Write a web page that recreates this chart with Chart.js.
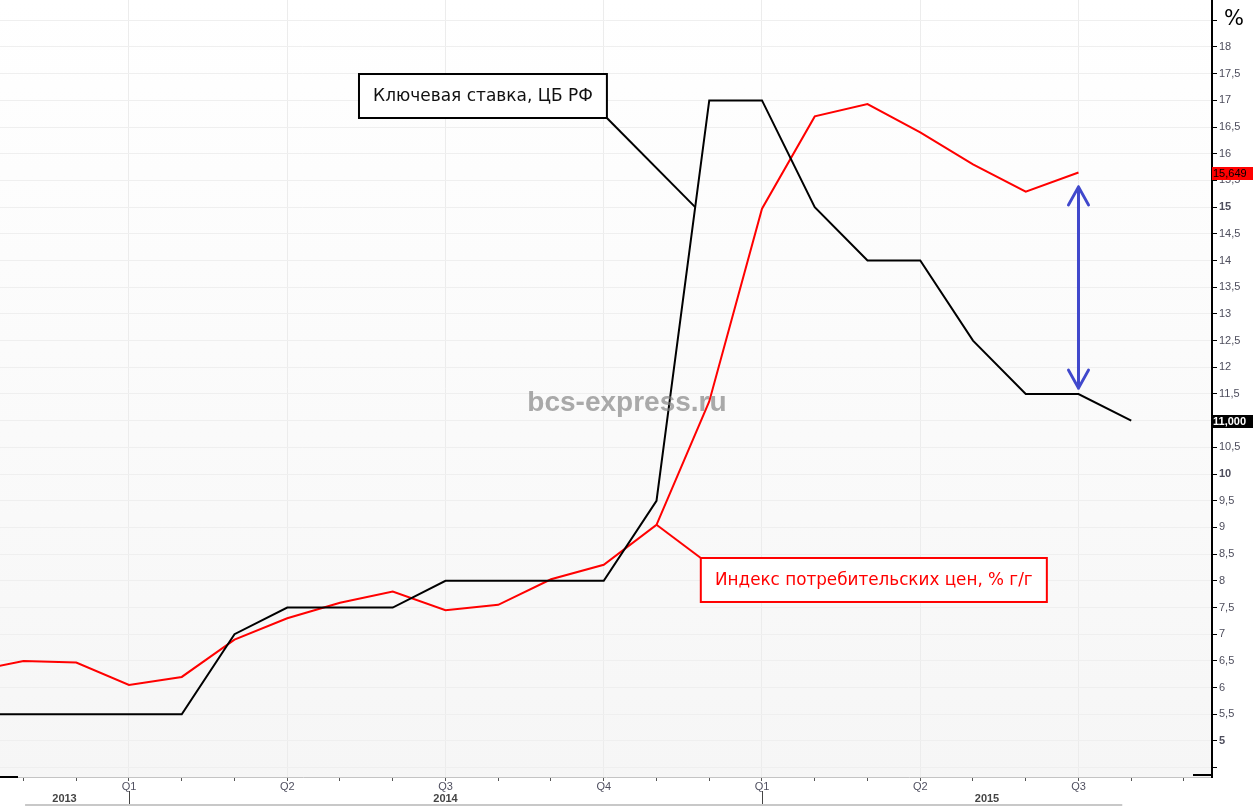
<!DOCTYPE html>
<html><head><meta charset="utf-8">
<script src="https://cdn.jsdelivr.net/npm/chart.js@4.4.1/dist/chart.umd.min.js"></script>
<style>html,body{margin:0;padding:0;background:#fff;overflow:hidden}canvas{display:block}</style>
</head><body>
<canvas id="c" width="1253" height="806"></canvas>
<script>
// ---- data ----
const months = ['2013-10','2013-11','2013-12','2014-01','2014-02','2014-03','2014-04','2014-05','2014-06','2014-07','2014-08','2014-09','2014-10','2014-11','2014-12','2015-01','2015-02','2015-03','2015-04','2015-05','2015-06','2015-07','2015-08'];
const keyRate = [5.5,5.5,5.5,5.5,5.5,7.0,7.5,7.5,7.5,8.0,8.0,8.0,8.0,9.5,17,17,15,14,14,12.5,11.5,11.5,11.0];
const cpi = [6.3,6.5,6.47,6.05,6.2,6.9,7.3,7.59,7.8,7.45,7.55,8.03,8.3,9.05,11.36,14.97,16.7,16.93,16.4,15.8,15.29,15.649];
const quarterTicks = {'2014-01':'Q1','2014-04':'Q2','2014-07':'Q3','2014-10':'Q4','2015-01':'Q1','2015-04':'Q2','2015-07':'Q3'};
const years = ['2013','2014','2015'];
const yTicks = [4.5,5,5.5,6,6.5,7,7.5,8,8.5,9,9.5,10,10.5,11,11.5,12,12.5,13,13.5,14,14.5,15,15.5,16,16.5,17,17.5,18,18.5];
const keyLabel = 'Ключевая ставка, ЦБ РФ';
const cpiLabel = 'Индекс потребительских цен, % г/г';
const watermark = 'bcs-express.ru';

// ---- layout / style (data-space positions for annotations) ----
const X_MIN = 0.5545, X_MAX = 23.531, Y_MIN = 4.3256, Y_MAX = 18.8804;
const notes = [
  {text: keyLabel, x0: 7.36, x1: 12.06, y0: 17.494, y1: 16.67, border: '#000', color: '#111'},
  {text: cpiLabel, x0: 13.84, x1: 20.40, y0: 8.428, y1: 7.604, border: '#ff0000', color: '#ff0000'}
];
const arrowSpec = {x: 21, yTop: 15.38, yBot: 11.61, color: '#4048cc'};
const wmSpec = {x: 12.44, y: 11.33};
const FONT = '"DejaVu Sans", Verdana, sans-serif';
const AXFONT = '"Liberation Sans", Arial, sans-serif';
const fmt = v => String(v).replace('.', ',');

const decor = {
  id: 'decor',
  beforeDraw(chart) {
    const {ctx, chartArea: a} = chart;
    ctx.save();
    ctx.fillStyle = '#fff';
    ctx.fillRect(0, 0, chart.width, chart.height);
    const g = ctx.createLinearGradient(0, a.top, 0, a.bottom);
    g.addColorStop(0, '#ffffff');
    g.addColorStop(1, '#f6f6f6');
    ctx.fillStyle = g;
    ctx.fillRect(a.left, a.top, a.right - a.left, a.bottom - a.top);
    ctx.restore();
  },
  afterDatasetsDraw(chart) {
    const {ctx, scales: {x, y}} = chart;
    ctx.save();
    // watermark
    ctx.font = 'bold 28px "Liberation Sans", Arial, sans-serif';
    ctx.fillStyle = 'rgba(130,130,130,0.68)';
    ctx.textAlign = 'center';
    ctx.textBaseline = 'middle';
    ctx.fillText(watermark, x.getPixelForValue(wmSpec.x), y.getPixelForValue(wmSpec.y));

    // connectors
    const i0 = 13, i1 = 14;
    const tv = 15;
    const tx = i0 + (tv - keyRate[i0]) / (keyRate[i1] - keyRate[i0]);
    ctx.lineWidth = 2;
    ctx.strokeStyle = '#000';
    ctx.beginPath();
    ctx.moveTo(x.getPixelForValue(notes[0].x1), y.getPixelForValue(notes[0].y1));
    ctx.lineTo(x.getPixelForValue(tx), y.getPixelForValue(tv));
    ctx.stroke();
    ctx.strokeStyle = '#ff0000';
    ctx.beginPath();
    ctx.moveTo(x.getPixelForValue(13), y.getPixelForValue(cpi[13]));
    ctx.lineTo(x.getPixelForValue(notes[1].x0), y.getPixelForValue(notes[1].y0));
    ctx.stroke();

    // boxes
    for (const n of notes) {
      const L = x.getPixelForValue(n.x0), R = x.getPixelForValue(n.x1);
      const T = y.getPixelForValue(n.y0), B = y.getPixelForValue(n.y1);
      ctx.fillStyle = '#fff';
      ctx.fillRect(L, T, R - L, B - T);
      ctx.lineWidth = 2;
      ctx.strokeStyle = n.border;
      ctx.strokeRect(L, T, R - L, B - T);
      ctx.font = '16px ' + FONT;
      const w = ctx.measureText(n.text).width;
      const fs = 16 * (R - L - 28) / w;
      ctx.font = fs.toFixed(2) + 'px ' + FONT;
      ctx.fillStyle = n.color;
      ctx.textAlign = 'center';
      ctx.textBaseline = 'middle';
      ctx.fillText(n.text, (L + R) / 2, (T + B) / 2 + 1);
    }

    // double arrow
    const ax = x.getPixelForValue(arrowSpec.x);
    const at = y.getPixelForValue(arrowSpec.yTop), ab = y.getPixelForValue(arrowSpec.yBot);
    ctx.strokeStyle = arrowSpec.color;
    ctx.lineWidth = 3;
    ctx.lineCap = 'round';
    ctx.lineJoin = 'round';
    ctx.beginPath();
    ctx.moveTo(ax, at); ctx.lineTo(ax, ab);
    ctx.moveTo(ax - 10, at + 18); ctx.lineTo(ax, at); ctx.lineTo(ax + 10, at + 18);
    ctx.moveTo(ax - 10, ab - 18); ctx.lineTo(ax, ab); ctx.lineTo(ax + 10, ab - 18);
    ctx.stroke();
    ctx.restore();
  },
  afterDraw(chart) {
    const {ctx, chartArea: a, scales: {x, y}} = chart;
    ctx.save();
    // bottom frame bits
    ctx.fillStyle = '#000';
    ctx.fillRect(a.left, a.bottom - 1, 18, 2);
    ctx.fillRect(a.right - 19, a.bottom - 3, 19, 2);
    // percent sign
    ctx.font = '21px ' + FONT;
    ctx.fillStyle = '#000';
    ctx.textAlign = 'center';
    ctx.textBaseline = 'middle';
    ctx.fillText('%', a.right + 22, y.getPixelForValue(18.5) - 1);
    // last value boxes
    const boxes = [
      {v: cpi[cpi.length - 1], bg: '#ff0000', fg: '#000', bold: false},
      {v: keyRate[keyRate.length - 1], bg: '#000', fg: '#fff', bold: true}
    ];
    for (const b of boxes) {
      const py = y.getPixelForValue(b.v);
      ctx.fillStyle = b.bg;
      ctx.fillRect(a.right, Math.round(py) - 6, chart.width - a.right, 13);
      ctx.fillStyle = b.fg;
      ctx.font = (b.bold ? 'bold ' : '') + '11px ' + AXFONT;
      ctx.textAlign = 'left';
      ctx.textBaseline = 'middle';
      ctx.fillText(b.v.toFixed(3).replace('.', ','), a.right + 1, Math.round(py) + 1);
    }
    // years
    ctx.font = 'bold 11px ' + AXFONT;
    ctx.fillStyle = '#444';
    ctx.textAlign = 'center';
    ctx.textBaseline = 'middle';
    const yIdx = yr => months.indexOf(yr + '-01') >= 0 ? months.indexOf(yr + '-01') : (Number(yr) - 2014) * 12 + 3;
    for (const yr of years) {
      const s = Math.max(a.left, x.getPixelForValue(yIdx(yr)));
      const e = Math.min(a.right, x.getPixelForValue(yIdx(Number(yr) + 1)));
      ctx.fillText(yr, (s + e) / 2, a.bottom + 22);
    }
    // year separators
    ctx.strokeStyle = '#444';
    ctx.lineWidth = 1;
    for (const yr of years) {
      const px = x.getPixelForValue(yIdx(yr));
      if (px > a.left && px < a.right) {
        ctx.beginPath();
        ctx.moveTo(Math.round(px) + 0.5, a.bottom + 14);
        ctx.lineTo(Math.round(px) + 0.5, chart.height);
        ctx.stroke();
      }
    }
    ctx.strokeStyle = '#c8c8c8';
    ctx.lineWidth = 2;
    ctx.beginPath();
    ctx.moveTo(x.getPixelForValue(1.03), chart.height - 1);
    ctx.lineTo(x.getPixelForValue(21.83), chart.height - 1);
    ctx.stroke();
    ctx.restore();
  }
};

new Chart(document.getElementById('c'), {
  type: 'line',
  data: {
    datasets: [
      {label: keyLabel, data: keyRate.map((v, i) => ({x: i, y: v})), borderColor: '#000', borderWidth: 2, pointRadius: 0, tension: 0, fill: false},
      {label: cpiLabel, data: cpi.map((v, i) => ({x: i, y: v})), borderColor: '#ff0000', borderWidth: 2, pointRadius: 0, tension: 0, fill: false}
    ]
  },
  options: {
    responsive: false,
    animation: false,
    devicePixelRatio: 1,
    layout: {padding: 0},
    plugins: {legend: {display: false}, tooltip: {enabled: false}},
    scales: {
      x: {
        type: 'linear', min: X_MIN, max: X_MAX,
        afterBuildTicks(s) {
          const t = [];
          for (let v = Math.ceil(s.min); v <= s.max; v++) t.push({value: v});
          s.ticks = t;
        },
        afterFit(s) { s.height = 29; s.paddingLeft = 0; s.paddingRight = 0; },
        grid: {
          color: c => (c.tick && quarterTicks[months[c.tick.value]]) ? '#ececec' : 'rgba(0,0,0,0)',
          tickColor: '#555', tickLength: 4, lineWidth: 1
        },
        border: {display: true, color: '#c4c4c4', width: 1},
        ticks: {
          autoSkip: false, maxRotation: 0, padding: -1,
          color: '#505060', font: {family: AXFONT, size: 11},
          callback: v => quarterTicks[months[v]] || ''
        }
      },
      y: {
        type: 'linear', position: 'right', min: Y_MIN, max: Y_MAX,
        afterBuildTicks(s) { s.ticks = yTicks.map(v => ({value: v})); },
        afterFit(s) { s.width = 41; s.paddingTop = 0; s.paddingBottom = 0; },
        grid: {color: '#efefef', tickColor: '#000', tickLength: 5, lineWidth: 1},
        border: {display: true, color: '#000', width: 2},
        ticks: {
          padding: 2, color: '#4d4d5c',
          font: c => ({family: AXFONT, size: 11, weight: (c.tick && c.tick.value % 5 === 0) ? 'bold' : 'normal'}),
          callback: v => (v < 5 || v > 18) ? '' : fmt(v)
        }
      }
    }
  },
  plugins: [decor]
});
</script>
</body></html>
